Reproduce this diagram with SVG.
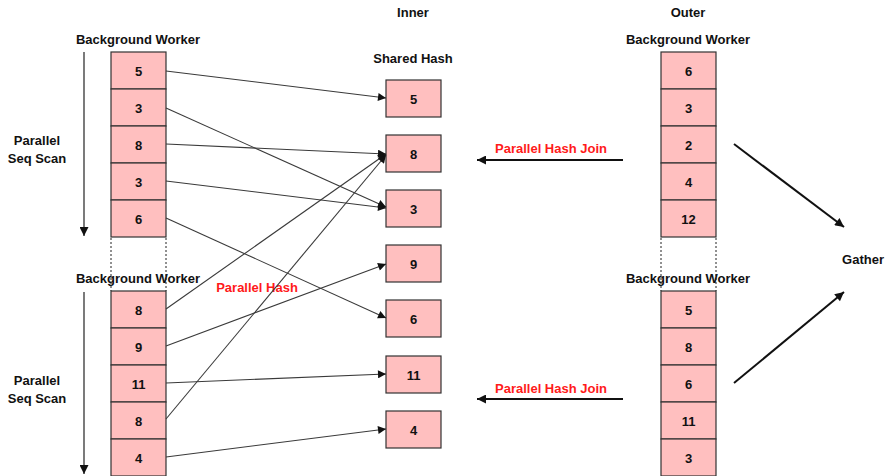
<svg xmlns="http://www.w3.org/2000/svg" width="886" height="476" viewBox="0 0 886 476">
<defs>
<style>
text{font-family:"Liberation Sans",Arial,sans-serif;font-weight:bold;font-size:13px;fill:#111;text-anchor:middle;dominant-baseline:central}
.red{fill:#ff1a1a}
.cell{fill:#ffbfbf;stroke:#333;stroke-width:1.2}
.dot{stroke:#222;stroke-width:1;stroke-dasharray:2,2;fill:none}
.conn{stroke:#3a3a3a;stroke-width:1.1;fill:none;marker-end:url(#ah)}
.thick{stroke:#111;stroke-width:2;fill:none;marker-end:url(#ahb)}
.scan{stroke:#222;stroke-width:1.2;fill:none;marker-end:url(#ahb)}
</style>
<marker id="ah" viewBox="0 0 10 10" refX="10" refY="5" markerWidth="10" markerHeight="8" markerUnits="userSpaceOnUse" orient="auto"><path d="M0,0 L10,5 L0,10 z" fill="#111"/></marker>
<marker id="ahb" viewBox="0 0 10 10" refX="10" refY="5" markerWidth="11" markerHeight="9" markerUnits="userSpaceOnUse" orient="auto"><path d="M0,0 L10,5 L0,10 z" fill="#111"/></marker>
</defs>

<g id="labels">
<text x="413" y="12">Inner</text>
<text x="688" y="12">Outer</text>
<text x="413" y="58">Shared Hash</text>
<text x="138" y="39">Background Worker</text>
<text x="138" y="278">Background Worker</text>
<text x="688" y="39">Background Worker</text>
<text x="688" y="278">Background Worker</text>
<text x="37" y="140">Parallel</text>
<text x="37" y="158">Seq Scan</text>
<text x="37" y="380">Parallel</text>
<text x="37" y="398">Seq Scan</text>
<text x="863" y="259">Gather</text>
<text class="red" x="257" y="287">Parallel Hash</text>
<text class="red" x="551" y="148">Parallel Hash Join</text>
<text class="red" x="551" y="388">Parallel Hash Join</text>
</g>

<g id="left-worker-1">
<rect class="cell" x="111" y="52" width="55" height="37"/><text x="138.5" y="71">5</text>
<rect class="cell" x="111" y="89" width="55" height="37"/><text x="138.5" y="108">3</text>
<rect class="cell" x="111" y="126" width="55" height="37"/><text x="138.5" y="145">8</text>
<rect class="cell" x="111" y="163" width="55" height="37"/><text x="138.5" y="182">3</text>
<rect class="cell" x="111" y="200" width="55" height="37"/><text x="138.5" y="219">6</text>
</g>
<g id="left-worker-2">
<rect class="cell" x="111" y="291" width="55" height="37"/><text x="138.5" y="310">8</text>
<rect class="cell" x="111" y="328" width="55" height="37"/><text x="138.5" y="347">9</text>
<rect class="cell" x="111" y="365" width="55" height="37"/><text x="138.5" y="384">11</text>
<rect class="cell" x="111" y="402" width="55" height="37"/><text x="138.5" y="421">8</text>
<rect class="cell" x="111" y="439" width="55" height="37"/><text x="138.5" y="458">4</text>
</g>
<g id="left-dots">
<line class="dot" x1="111" y1="238" x2="111" y2="291"/>
<line class="dot" x1="166" y1="238" x2="166" y2="291"/>
</g>

<g id="shared-hash">
<rect class="cell" x="386" y="80" width="55" height="37"/><text x="413.5" y="99">5</text>
<rect class="cell" x="386" y="135" width="55" height="37"/><text x="413.5" y="154">8</text>
<rect class="cell" x="386" y="190" width="55" height="37"/><text x="413.5" y="209">3</text>
<rect class="cell" x="386" y="245" width="55" height="37"/><text x="413.5" y="264">9</text>
<rect class="cell" x="386" y="300" width="55" height="37"/><text x="413.5" y="319">6</text>
<rect class="cell" x="386" y="356" width="55" height="37"/><text x="413.5" y="375">11</text>
<rect class="cell" x="386" y="411" width="55" height="37"/><text x="413.5" y="430">4</text>
</g>

<g id="right-worker-1">
<rect class="cell" x="661" y="52" width="55" height="37"/><text x="688.5" y="71">6</text>
<rect class="cell" x="661" y="89" width="55" height="37"/><text x="688.5" y="108">3</text>
<rect class="cell" x="661" y="126" width="55" height="37"/><text x="688.5" y="145">2</text>
<rect class="cell" x="661" y="163" width="55" height="37"/><text x="688.5" y="182">4</text>
<rect class="cell" x="661" y="200" width="55" height="37"/><text x="688.5" y="219">12</text>
</g>
<g id="right-worker-2">
<rect class="cell" x="661" y="291" width="55" height="37"/><text x="688.5" y="310">5</text>
<rect class="cell" x="661" y="328" width="55" height="37"/><text x="688.5" y="347">8</text>
<rect class="cell" x="661" y="365" width="55" height="37"/><text x="688.5" y="384">6</text>
<rect class="cell" x="661" y="402" width="55" height="37"/><text x="688.5" y="421">11</text>
<rect class="cell" x="661" y="439" width="55" height="37"/><text x="688.5" y="458">3</text>
</g>
<g id="right-dots">
<line class="dot" x1="661" y1="238" x2="661" y2="291"/>
<line class="dot" x1="716" y1="238" x2="716" y2="291"/>
</g>

<g id="connectors">
<line class="scan" x1="84" y1="52" x2="84" y2="236"/>
<line class="scan" x1="84" y1="292" x2="84" y2="474"/>
<line class="conn" x1="166" y1="71" x2="386" y2="98"/>
<line class="conn" x1="166" y1="108" x2="386" y2="207"/>
<line class="conn" x1="166" y1="144" x2="386" y2="154"/>
<line class="conn" x1="166" y1="181" x2="386" y2="208"/>
<line class="conn" x1="166" y1="218" x2="386" y2="318"/>
<line class="conn" x1="166" y1="309" x2="386" y2="154"/>
<line class="conn" x1="166" y1="346" x2="386" y2="264"/>
<line class="conn" x1="166" y1="383" x2="386" y2="374"/>
<line class="conn" x1="166" y1="419" x2="386" y2="155"/>
<line class="conn" x1="166" y1="457" x2="386" y2="429"/>
<line class="thick" x1="623" y1="160" x2="477" y2="160"/>
<line class="thick" x1="623" y1="399" x2="477" y2="399"/>
<line class="thick" x1="734" y1="144" x2="844" y2="227"/>
<line class="thick" x1="734" y1="383" x2="844" y2="292"/>
</g>
</svg>
